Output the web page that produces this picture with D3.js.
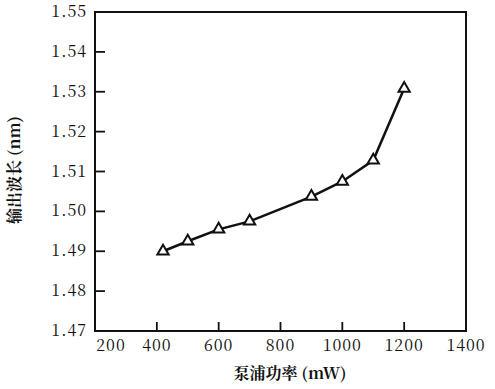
<!DOCTYPE html>
<html>
<head>
<meta charset="UTF-8">
<title>泵浦功率与输出波长</title>
<script src="https://d3js.org/d3.v7.min.js"></script>
<style>
    body { margin: 0; background: #fff; }
    svg text.title { font-family: "Noto Serif CJK SC", "Noto Sans CJK SC", serif; font-weight: bold; font-size: 16px; }
    svg text.num { font-family: "Noto Serif CJK SC", serif; font-size: 16px; letter-spacing: 1px; }
</style>
</head>
<body>
<svg id="chart" width="495" height="389"></svg>
<script>
// pump power (mW) vs output wavelength
const pumpPower = [420, 500, 600, 700, 900, 1000, 1100, 1200];
const wavelength = [1.490, 1.4925, 1.4955, 1.4975, 1.5037, 1.5075, 1.5128, 1.5308];
const xTicks = [200, 400, 600, 800, 1000, 1200, 1400];
const yTicks = [1.47, 1.48, 1.49, 1.50, 1.51, 1.52, 1.53, 1.54, 1.55];

const plotLeft = 95, plotRight = 466, plotTop = 12, plotBottom = 331;

const svg = d3.select("#chart");
const x = d3.scaleLinear().domain([200, 1400]).range([plotLeft, plotRight]);
const y = d3.scaleLinear().domain([1.47, 1.55]).range([plotBottom, plotTop]);

// frame
svg.append("rect")
    .attr("x", plotLeft).attr("y", plotTop)
    .attr("width", plotRight - plotLeft).attr("height", plotBottom - plotTop)
    .attr("fill", "none").attr("stroke", "#111").attr("stroke-width", 2);

// x ticks (inward, no tick at the ends)
svg.append("g").selectAll("line")
    .data(xTicks.filter(d => d > 200 && d < 1400))
    .join("line")
    .attr("x1", d => x(d)).attr("x2", d => x(d))
    .attr("y1", plotBottom).attr("y2", plotBottom - 9)
    .attr("stroke", "#111").attr("stroke-width", 1.8);

svg.append("g").selectAll("text")
    .data(xTicks)
    .join("text")
    .attr("class", "num")
    .attr("fill", "#111")
    .attr("x", d => x(d) + (d === 200 ? 16 : 0))
    .attr("y", plotBottom + 20)
    .attr("text-anchor", "middle")
    .text(d => d);

// y ticks
svg.append("g").selectAll("line")
    .data(yTicks.filter(d => d > 1.47 && d < 1.55))
    .join("line")
    .attr("x1", plotLeft).attr("x2", plotLeft + 10)
    .attr("y1", d => y(d)).attr("y2", d => y(d))
    .attr("stroke", "#111").attr("stroke-width", 1.8);

svg.append("g").selectAll("text")
    .data(yTicks)
    .join("text")
    .attr("class", "num")
    .attr("fill", "#111")
    .attr("x", plotLeft - 8)
    .attr("y", d => y(d) + 5)
    .attr("text-anchor", "end")
    .text(d => d.toFixed(2));

// data line
const pts = pumpPower.map((p, i) => [p, wavelength[i]]);
svg.append("path")
    .datum(pts)
    .attr("d", d3.line().x(d => x(d[0])).y(d => y(d[1])))
    .attr("fill", "none").attr("stroke", "#111").attr("stroke-width", 2.5);

// open triangle markers
svg.append("g").selectAll("path")
    .data(pts)
    .join("path")
    .attr("transform", d => `translate(${x(d[0])},${y(d[1])})`)
    .attr("d", d3.symbol(d3.symbolTriangle, 55))
    .attr("fill", "#fff").attr("stroke", "#111").attr("stroke-width", 2);

// axis titles
svg.append("text")
    .attr("class", "title")
    .attr("fill", "#111")
    .attr("x", 290).attr("y", 379)
    .attr("text-anchor", "middle")
    .text("泵浦功率 (mW)");

svg.append("text")
    .attr("class", "title")
    .attr("fill", "#111")
    .attr("transform", "translate(20,170) rotate(-90)")
    .attr("text-anchor", "middle")
    .text("输出波长 (nm)");
</script>
</body>
</html>
